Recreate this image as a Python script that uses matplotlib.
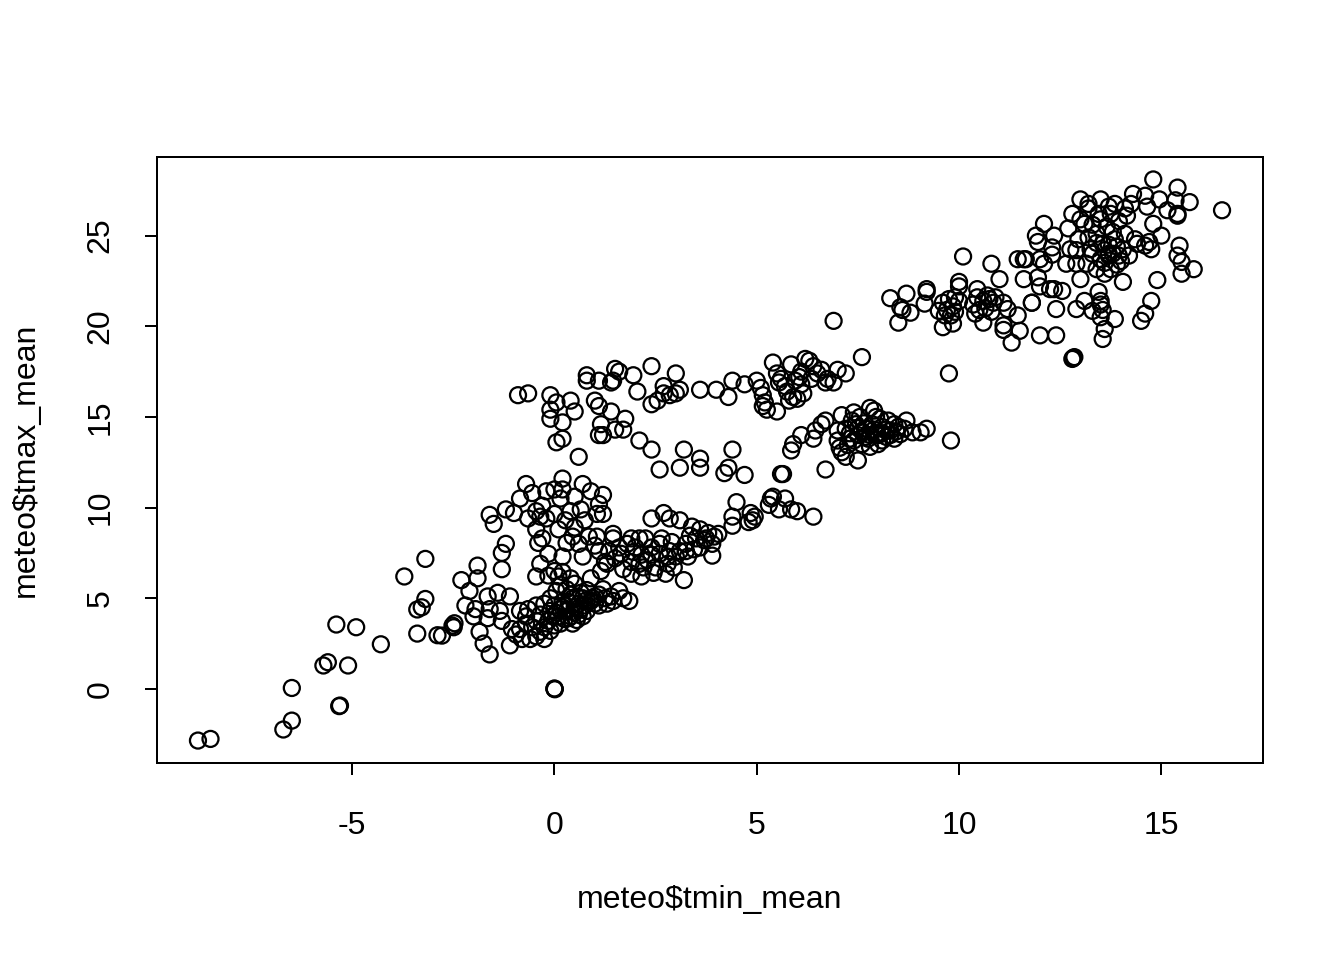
import numpy as np
import matplotlib
matplotlib.use("Agg")
import matplotlib.pyplot as plt

# valores (tmin_mean, tmax_mean), agrupados por regiao
lower_left = [(-8.81, -2.85), (-8.50, -2.76), (-6.70, -2.24), (-6.49, -1.75), (-6.49, 0.05),
              (-5.30, -0.92), (-5.32, -0.95), (-5.71, 1.29), (-5.60, 1.47), (-5.10, 1.29),
              (-5.39, 3.55), (-4.90, 3.40), (-4.29, 2.46), (-3.71, 6.20), (-3.19, 7.17),
              (-3.39, 4.38), (-3.28, 4.50), (-3.19, 4.96), (-3.39, 3.05), (-2.89, 2.96),
              (-2.52, 3.49), (-2.47, 3.62)]

left_low = [(-2.3, 6.0), (-2.1, 5.4), (-1.9, 6.8), (-1.9, 6.1), (-1.95, 4.4), (-2.0, 4.0),
            (-2.2, 4.6), (-1.65, 5.1), (-1.6, 4.4), (-1.65, 3.9), (-1.85, 3.15), (-1.75, 2.5),
            (-1.6, 1.9), (-1.3, 6.6), (-1.3, 7.5), (-1.2, 8.0), (-1.4, 5.3), (-1.35, 4.3),
            (-1.3, 3.75), (-1.1, 5.1), (-1.1, 2.4), (-1.05, 3.3), (-2.49, 3.4), (-2.78, 2.94)]

left_high = [(-1.6, 9.6), (-1.5, 9.1), (-1.2, 9.9), (-1.0, 9.7), (-0.85, 10.5), (-0.7, 11.3),
             (-0.55, 10.8), (-0.35, 9.5), (-0.3, 10.1), (-0.2, 10.9), (-0.45, 8.8), (-0.3, 8.3),
             (0.2, 11.6), (0.2, 11.0), (0.0, 11.0), (0.15, 10.5), (0.5, 10.6), (0.7, 11.3),
             (0.9, 10.9), (1.2, 10.7), (1.1, 10.2), (1.05, 9.65), (0.65, 9.9), (0.4, 9.8),
             (0.27, 9.3), (0.5, 8.9), (0.75, 9.3), (1.2, 9.65), (1.05, 8.4), (0.85, 8.4),
             (0.45, 8.4), (0.6, 8.0), (0.2, 7.3), (0.3, 8.05), (0.1, 8.8), (0.0, 9.65),
             (-0.2, 9.4), (-0.45, 9.8), (-0.65, 9.4), (-0.4, 8.05), (-0.15, 7.45), (-0.35, 6.9),
             (-0.45, 6.2), (-0.15, 6.25)]

core = [(-0.6, 2.75), (-0.45, 2.9), (-0.35, 3.15), (-0.25, 3.4), (-0.15, 3.75), (-0.05, 4.0),
        (0.05, 4.2), (0.15, 4.4), (0.25, 4.6), (0.35, 4.8), (0.45, 5.0), (0.55, 5.1),
        (0.65, 5.3), (0.8, 5.45), (0.95, 5.0), (1.1, 5.2), (1.25, 5.0), (1.45, 4.85),
        (1.6, 5.4), (1.85, 4.85), (-0.35, 4.1), (-0.45, 3.75), (-0.7, 3.6), (-0.85, 3.3),
        (-0.65, 4.4), (-0.45, 4.6), (-0.25, 4.7), (0.15, 3.6), (0.25, 3.85), (0.4, 4.0),
        (0.5, 4.2), (0.65, 4.4), (0.75, 4.6), (0.9, 4.85), (0.45, 3.6), (0.7, 4.0),
        (1.0, 4.7), (1.2, 5.5), (-0.1, 5.0), (0.05, 5.4), (0.15, 5.75), (0.3, 5.5),
        (0.5, 5.8), (0.9, 6.1), (1.15, 6.5), (1.9, 6.35), (-0.85, 4.3), (-0.7, 4.0),
        (-0.55, 3.4), (-0.95, 3.0), (-0.8, 2.75), (-0.25, 2.75), (-0.1, 3.2), (0.0, 3.5),
        (0.1, 4.0), (0.3, 4.3), (0.5, 4.5), (0.6, 4.7), (0.8, 4.9), (1.0, 5.1), (0.2, 4.8),
        (0.4, 5.2), (0.6, 4.1), (0.8, 4.3), (1.1, 4.6), (1.3, 4.7), (0.35, 3.9), (0.55, 3.8),
        (0.2, 4.5), (0.7, 5.0), (1.4, 5.1), (-0.1, 4.3), (0.0, 4.6), (1.7, 5.0),
        (0.0, 0.0), (0.0, 0.02), (0.01, -0.02)]

band = [(0.0, 6.5), (0.1, 6.2), (0.2, 6.45), (0.4, 6.1), (0.7, 7.3), (1.0, 7.9), (1.1, 7.6),
        (1.25, 7.0), (1.35, 7.6), (1.45, 8.3), (1.45, 8.55), (1.5, 7.2), (1.65, 7.45),
        (1.8, 8.0), (1.9, 8.3), (1.95, 7.55), (2.1, 8.3), (2.15, 7.4), (2.15, 6.2), (2.2, 6.7),
        (2.25, 8.3), (2.4, 7.8), (2.4, 7.4), (2.4, 9.4), (2.5, 6.7), (2.6, 7.45), (2.65, 8.3),
        (2.75, 6.35), (2.8, 6.9), (2.85, 7.6), (2.85, 9.4), (2.7, 9.7), (2.95, 6.7),
        (3.1, 9.3), (3.1, 7.6), (3.25, 8.0), (3.25, 7.6), (3.2, 6.0), (3.35, 8.45),
        (3.4, 8.95), (3.45, 7.7), (3.6, 8.8), (3.6, 7.8), (3.75, 8.3), (3.8, 8.6),
        (3.9, 7.35), (3.9, 8.0), (3.95, 8.4), (4.05, 8.55), (4.4, 9.5), (4.5, 10.3),
        (4.4, 9.0), (4.8, 9.2), (4.9, 9.3), (4.95, 9.5), (4.85, 9.7),
        (1.7, 6.6), (1.9, 7.0), (2.0, 7.8), (2.3, 7.1), (2.6, 8.0), (2.9, 8.1), (3.0, 7.3),
        (3.3, 7.3), (3.5, 8.3), (3.7, 8.2), (1.3, 6.9), (1.6, 7.8), (2.1, 6.9), (2.45, 6.4),
        (2.8, 7.3)]

band_mid = [(5.35, 10.5), (5.4, 10.6), (5.3, 10.15), (5.55, 9.9), (5.6, 11.85), (5.7, 10.5),
            (5.85, 9.9), (6.0, 9.8), (6.4, 9.5), (5.65, 11.85)]

upper_left = [(-0.9, 16.2), (-0.65, 16.3), (-0.1, 16.2), (-0.1, 15.4), (0.05, 15.8),
              (-0.1, 14.9), (0.05, 13.6), (0.2, 13.8), (0.2, 14.7), (0.4, 15.9), (0.5, 15.3),
              (0.6, 12.8), (0.8, 17.3), (0.8, 17.0), (1.1, 17.0), (1.1, 15.6), (1.0, 15.9),
              (1.1, 14.0), (1.2, 14.0), (1.15, 14.6), (1.4, 15.3), (1.45, 17.0), (1.4, 16.9),
              (1.5, 17.65), (1.6, 17.5), (1.5, 14.3), (1.75, 14.9), (1.7, 14.3), (1.95, 17.3),
              (2.05, 16.4), (2.1, 13.7), (2.4, 17.8), (2.4, 13.2), (2.4, 15.7), (2.55, 15.9),
              (2.6, 12.1), (2.7, 16.7), (2.7, 16.3), (2.85, 16.2), (3.0, 16.3), (3.0, 17.4),
              (3.1, 16.5), (3.1, 12.2), (3.2, 13.2), (3.6, 16.5), (3.6, 12.7), (3.6, 12.2),
              (4.0, 16.5), (4.2, 11.9), (4.3, 16.1), (4.3, 12.2), (4.4, 17.0), (4.4, 13.2),
              (4.7, 11.8), (4.7, 16.8)]

mid_upper = [(5.0, 17.0), (5.1, 16.6), (5.15, 16.2), (5.2, 15.8), (5.15, 15.6), (5.25, 15.4),
             (5.4, 18.0), (5.5, 15.3), (5.5, 17.4), (5.55, 16.9), (5.6, 17.1), (5.7, 16.7),
             (5.75, 16.4), (5.8, 15.9), (5.85, 17.9), (5.9, 16.1), (5.95, 17.0), (6.05, 17.2),
             (6.1, 16.8), (6.1, 17.5), (6.15, 16.3), (6.2, 18.2), (6.3, 18.1), (6.35, 17.1),
             (6.4, 17.8), (6.5, 17.4), (6.6, 17.6), (6.7, 16.9), (6.75, 17.1), (6.9, 20.3),
             (6.9, 16.9), (7.0, 17.6), (7.2, 17.4), (7.6, 18.3), (6.0, 16.0)]

mid_cluster = [(5.85, 13.15), (5.9, 13.5), (6.1, 14.0), (6.4, 13.8), (6.45, 14.25), (6.6, 14.6),
               (6.7, 14.8), (6.7, 12.1), (7.0, 14.25), (7.1, 15.1), (7.1, 13.05), (7.2, 12.8),
               (7.4, 15.25), (7.5, 12.6), (7.8, 15.5), (7.9, 15.35), (8.7, 14.8), (8.85, 14.15),
               (9.05, 14.15), (9.2, 14.35), (9.8, 13.7), (7.2, 14.35), (7.3, 13.8), (7.45, 14.6),
               (7.5, 14.0), (7.6, 13.5), (7.7, 14.35), (7.75, 13.8), (7.85, 14.6), (7.95, 14.05),
               (8.0, 13.5), (8.1, 14.45), (8.2, 13.9), (8.25, 14.8), (8.3, 14.25), (8.4, 13.8),
               (8.5, 14.45), (8.55, 14.05), (7.8, 13.35), (8.05, 14.9), (7.55, 15.0),
               (7.25, 13.45), (8.4, 14.6), (8.65, 14.35), (7.95, 15.0), (9.75, 17.4),
               (7.3, 14.1), (7.4, 13.7), (7.6, 14.2), (7.7, 13.9), (7.9, 14.3), (8.0, 14.0),
               (8.1, 13.7), (8.2, 14.3), (8.3, 14.0), (7.5, 14.4), (7.8, 14.0), (8.1, 14.1),
               (7.65, 14.65), (8.45, 14.2), (7.35, 14.8), (7.0, 13.7), (7.05, 13.3)]

cluster_20 = [(8.3, 21.55), (8.7, 21.8), (8.55, 21.05), (8.6, 20.9), (8.8, 20.75), (8.5, 20.2),
              (9.15, 21.25), (9.2, 22.05), (9.2, 21.9), (9.6, 19.95), (9.85, 20.15), (9.5, 20.85),
              (10.0, 22.45), (10.1, 23.85), (10.0, 22.2), (10.45, 22.05), (10.6, 20.2),
              (10.8, 23.45), (11.0, 22.6), (11.1, 21.3), (11.2, 20.95), (11.1, 20.05),
              (11.1, 19.8), (11.3, 19.1), (11.45, 20.6), (11.5, 19.75), (11.6, 23.7),
              (11.6, 22.6), (11.8, 21.3), (12.0, 19.5), (11.95, 22.7), (12.0, 22.2),
              (12.35, 22.05), (12.4, 20.95), (12.4, 19.5), (12.0, 23.7), (9.6, 21.3),
              (9.7, 20.9), (9.75, 21.5), (9.8, 20.6), (9.85, 21.1), (9.9, 20.8), (10.0, 21.4),
              (9.65, 20.6), (9.9, 21.6), (10.35, 21.2), (10.45, 21.6), (10.5, 20.9),
              (10.6, 21.4), (10.65, 21.0), (10.75, 21.5), (10.8, 20.8), (10.85, 21.3),
              (10.9, 21.6), (10.4, 20.7), (10.7, 21.7), (11.45, 23.7)]

top_right = [(14.8, 28.1), (15.4, 27.65), (15.7, 26.85), (16.5, 26.4), (14.3, 27.3), (14.6, 27.2),
             (14.65, 26.6), (14.95, 27.0), (15.15, 26.4), (15.35, 26.95), (15.4, 26.2),
             (15.4, 26.1), (14.8, 25.65), (15.0, 25.0), (14.7, 24.65), (14.6, 24.45),
             (14.75, 24.25), (14.4, 24.55), (15.45, 24.45), (15.4, 23.9), (15.5, 23.55),
             (15.8, 23.15), (15.5, 22.9), (14.9, 22.55), (14.75, 21.4), (14.6, 20.7),
             (14.5, 20.3), (12.1, 25.65), (11.9, 25.0), (11.95, 24.65), (12.35, 25.0),
             (12.3, 24.35), (12.3, 23.95), (11.65, 23.7), (12.1, 23.45), (12.25, 22.05),
             (12.55, 21.95), (11.8, 21.3), (12.85, 18.3), (12.8, 18.2), (12.82, 18.25),
             (12.9, 20.95), (13.1, 21.4), (13.3, 20.85), (13.5, 21.4), (13.5, 21.2),
             (13.55, 20.9), (13.45, 21.9), (13.5, 20.5), (13.85, 20.4), (13.6, 19.85),
             (13.55, 19.3), (14.05, 22.45), (12.7, 25.4), (12.8, 26.2), (12.95, 24.8),
             (13.1, 25.65), (13.2, 26.75), (13.25, 24.25), (13.4, 25.1), (13.45, 26.2),
             (13.5, 23.7), (13.55, 24.55), (13.65, 25.5), (13.7, 26.6), (13.75, 23.15),
             (13.8, 24.0), (13.85, 24.8), (13.95, 25.8), (14.0, 23.6), (14.05, 24.25),
             (14.1, 25.1), (13.4, 23.15), (13.15, 23.45), (12.9, 23.45), (12.75, 24.25),
             (12.65, 23.45), (13.0, 22.6), (13.6, 22.9), (13.2, 26.5), (13.75, 26.2),
             (14.1, 26.5), (13.0, 27.0), (13.5, 27.0), (13.85, 26.75), (14.25, 26.75),
             (14.35, 24.8), (13.9, 23.4), (13.7, 23.9), (13.3, 24.0),
             (13.4, 24.6), (13.6, 24.2), (13.7, 24.5), (13.8, 25.2), (13.9, 24.4), (13.6, 23.5),
             (13.3, 25.6), (13.5, 25.9), (13.7, 24.0), (13.95, 23.9), (13.2, 24.9),
             (13.0, 25.9), (12.9, 24.2), (14.2, 23.9), (14.15, 26.1)]

groups = [lower_left, left_low, left_high, core, band, band_mid, upper_left,
          mid_upper, mid_cluster, cluster_20, top_right]
pts = np.array([p for g in groups for p in g])
tmin_mean = pts[:, 0]
tmax_mean = pts[:, 1]

plt.rcParams['font.family'] = ['Liberation Sans', 'DejaVu Sans']
plt.rcParams['font.size'] = 12
plt.rcParams['axes.unicode_minus'] = False

fig = plt.figure(figsize=(7, 5), dpi=192)
ax = fig.add_axes([157 / 1344, 197 / 960, 1106 / 1344, 606 / 960])

ax.scatter(tmin_mean, tmax_mean, s=36, facecolors='none', edgecolors='black', linewidths=0.85)

# limites como no R: +-4% do intervalo dos dados
def r_lim(v):
    d = 0.04 * (v.max() - v.min())
    return v.min() - d, v.max() + d

ax.set_xlim(*r_lim(tmin_mean))
ax.set_ylim(*r_lim(tmax_mean))
ax.set_xticks([-5, 0, 5, 10, 15])
ax.set_yticks([0, 5, 10, 15, 20, 25])
ax.tick_params(direction='out', length=4.5, width=0.75, labelsize=12)
ax.tick_params(axis='x', pad=13.5)
ax.tick_params(axis='y', pad=11)
for lab in ax.get_yticklabels():
    lab.set_rotation(90)
    lab.set_va('center')
for s in ax.spines.values():
    s.set_linewidth(0.75)

ax.set_xlabel(r'meteo\$tmin_mean', fontsize=12, va='center')
ax.set_ylabel(r'meteo\$tmax_mean', fontsize=12, va='center')
ax.xaxis.set_label_coords(0.5, -0.226)
ax.yaxis.set_label_coords(-0.119, 0.5)

fig.savefig('out.png', dpi=192)
